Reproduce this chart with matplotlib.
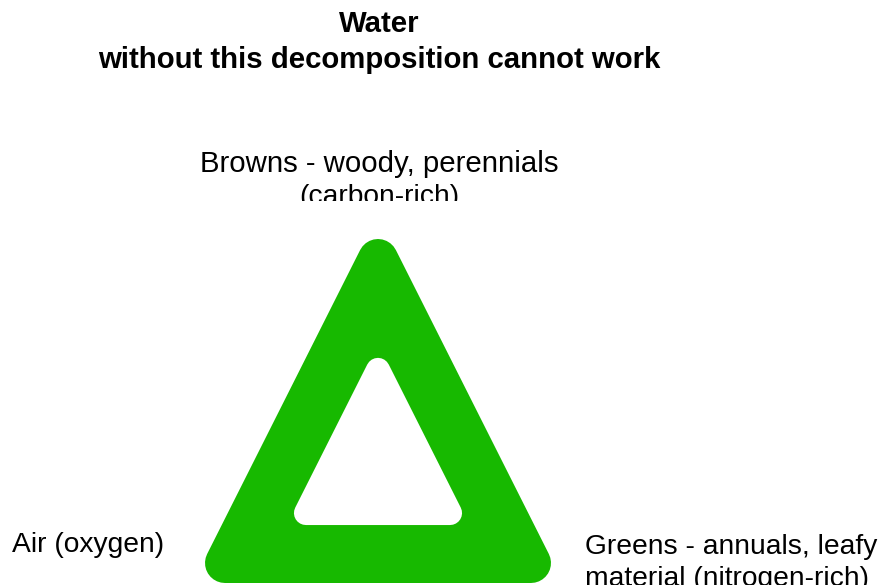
import matplotlib
matplotlib.use("Agg")
import matplotlib.pyplot as plt
from matplotlib.patches import Polygon
from matplotlib.transforms import Bbox
import numpy as np

plt.rcParams['font.family'] = ['Liberation Sans', 'DejaVu Sans']

# ---- data ----
title_lines = ["Water", "without this decomposition cannot work"]
vertex_labels = ["Browns - woody, perennials\n(carbon-rich)",
                 "Air (oxygen)",
                 "Greens - annuals, leafy\nmaterial (nitrogen-rich)"]
vertex_x = [0.5, 0.0, 1.0]
vertex_y = [1.0, 0.0, 0.0]
hole_scale = 0.471
hole_shift = -0.012
green = "#17B900"

W, H = 890, 585
fig = plt.figure(figsize=(W / 100, H / 100), dpi=100)
fig.patch.set_facecolor("white")

def fx(p):
    return p / W

def fy(p):
    return 1 - p / H

# triangle axes (unit ternary triangle)
ax = fig.add_axes([fx(225), fy(563), (531 - 225) / W, (563 - 259) / H])
ax.set_xlim(0, 1)
ax.set_ylim(0, 1)
ax.axis("off")

outer = np.column_stack([vertex_x, vertex_y])
cent = outer.mean(axis=0)
inner = cent + hole_scale * (outer - cent) + np.array([0, hole_shift])

ax.add_patch(Polygon(outer, closed=True, facecolor=green, edgecolor=green,
                     linewidth=40 * 0.72, joinstyle="round", clip_on=False))
ax.add_patch(Polygon(inner, closed=True, facecolor="white", edgecolor="white",
                     linewidth=24 * 0.72, joinstyle="round", clip_on=False))

# title
title_size = 21.2
fig.text(fx(379), fy(32.5), title_lines[0], ha="center", va="baseline",
         fontsize=title_size, fontweight="bold")
fig.text(fx(379), fy(67.5), title_lines[1], ha="center", va="baseline",
         fontsize=title_size, fontweight="bold")

# vertex labels
lab_size = 20.3
line_step = 33
clip = Bbox.from_extents(0, H - 201, W, H)

top_lines = vertex_labels[0].split("\n")
top_sizes = [21.2, 20.3]
for i, s in enumerate(top_lines):
    t = fig.text(fx(379), fy(171.5 + i * line_step), s, ha="center",
                 va="baseline", fontsize=top_sizes[i])
    t.set_clip_box(clip)
    t.set_clip_on(True)

fig.text(fx(12), fy(552), vertex_labels[1], ha="left", va="baseline",
         fontsize=lab_size)

for i, s in enumerate(vertex_labels[2].split("\n")):
    fig.text(fx(585), fy(553.5 + i * line_step), s, ha="left",
             va="baseline", fontsize=lab_size)

fig.savefig("out.png", dpi=100)
